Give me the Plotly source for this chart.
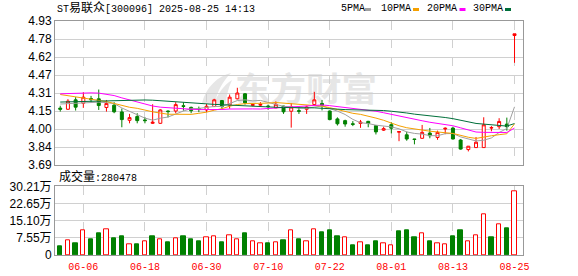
import base64
import plotly.graph_objects as go

# ---------------- data ----------------
dates = ["06-03", "06-04", "06-05", "06-06", "06-09", "06-10", "06-11", "06-12", "06-13", "06-16",
         "06-17", "06-18", "06-19", "06-20", "06-23", "06-24", "06-25", "06-26", "06-27", "06-30",
         "07-01", "07-02", "07-03", "07-04", "07-07", "07-08", "07-09", "07-10", "07-11", "07-14",
         "07-15", "07-16", "07-17", "07-18", "07-21", "07-22", "07-23", "07-24", "07-25", "07-28",
         "07-29", "07-30", "07-31", "08-01", "08-04", "08-05", "08-06", "08-07", "08-08", "08-11",
         "08-12", "08-13", "08-14", "08-15", "08-18", "08-19", "08-20", "08-21", "08-22", "08-25"]

open_ = [4.18, 4.17, 4.251, 4.222, 4.262, 4.26, 4.185, 4.205, 4.147, 4.075,
         4.107, 4.078, 4.049, 4.049, 4.155, 4.155, 4.20, 4.186, 4.175, 4.164,
         4.193, 4.245, 4.206, 4.26, 4.303, 4.203, 4.205, 4.198, 4.182, 4.197,
         4.153, 4.158, 4.17, 4.21, 4.22, 4.155, 4.087, 4.072, 4.045, 4.048,
         4.066, 4.029, 3.99, 4.037, 3.972, 3.95, 3.914, 3.92, 3.965, 3.927,
         4.00, 4.008, 3.905, 3.823, 3.84, 3.84, 4.008, 4.02, 4.042, 4.805]
high = [4.20, 4.257, 4.274, 4.317, 4.285, 4.34, 4.25, 4.231, 4.176, 4.13,
        4.136, 4.101, 4.213, 4.17, 4.16, 4.231, 4.23, 4.193, 4.193, 4.216,
        4.26, 4.25, 4.297, 4.355, 4.31, 4.222, 4.231, 4.21, 4.238, 4.20,
        4.223, 4.19, 4.20, 4.32, 4.25, 4.16, 4.10, 4.08, 4.068, 4.078,
        4.07, 4.03, 4.02, 4.058, 3.978, 3.977, 3.915, 4.035, 4.009, 3.986,
        4.014, 4.02, 3.913, 3.853, 3.931, 4.101, 4.025, 4.093, 4.098, 4.82]
low = [4.15, 4.165, 4.159, 4.182, 4.231, 4.164, 4.15, 4.136, 4.015, 4.049,
       4.049, 4.049, 4.043, 4.045, 4.10, 4.136, 4.158, 4.136, 4.145, 4.145,
       4.19, 4.173, 4.175, 4.255, 4.21, 4.196, 4.193, 4.165, 4.18, 4.13,
       4.012, 4.13, 4.13, 4.20, 4.16, 4.075, 4.03, 4.02, 4.025, 4.01,
       4.015, 3.953, 3.983, 3.962, 3.895, 3.899, 3.868, 3.915, 3.92, 3.907,
       3.955, 3.91, 3.822, 3.807, 3.838, 3.838, 3.98, 4.00, 3.986, 4.57]
close = [4.17, 4.24, 4.188, 4.274, 4.253, 4.202, 4.22, 4.148, 4.081, 4.098,
         4.072, 4.072, 4.058, 4.164, 4.150, 4.21, 4.195, 4.158, 4.170, 4.196,
         4.251, 4.193, 4.274, 4.31, 4.225, 4.21, 4.212, 4.193, 4.213, 4.148,
         4.19, 4.153, 4.19, 4.251, 4.205, 4.081, 4.045, 4.043, 4.040, 4.06,
         4.047, 3.975, 4.003, 4.007, 3.978, 3.914, 3.910, 3.971, 3.942, 3.971,
         4.006, 3.914, 3.827, 3.852, 3.886, 4.036, 4.012, 4.065, 4.02, 4.82]

ma5 = [4.215, 4.218, 4.220, 4.223, 4.225, 4.231, 4.227, 4.219, 4.181, 4.150,
       4.124, 4.094, 4.076, 4.093, 4.103, 4.131, 4.155, 4.175, 4.177, 4.186,
       4.194, 4.194, 4.217, 4.245, 4.251, 4.242, 4.246, 4.230, 4.211, 4.195,
       4.191, 4.179, 4.179, 4.186, 4.198, 4.176, 4.154, 4.125, 4.083, 4.054,
       4.047, 4.033, 4.025, 4.018, 4.002, 3.975, 3.962, 3.956, 3.943, 3.942,
       3.960, 3.961, 3.932, 3.914, 3.897, 3.903, 3.923, 3.970, 4.004, 4.191]
ma10 = [4.297, 4.287, 4.276, 4.265, 4.257, 4.249, 4.236, 4.220, 4.203, 4.187,
        4.178, 4.161, 4.148, 4.137, 4.127, 4.127, 4.125, 4.126, 4.135, 4.145,
        4.162, 4.175, 4.196, 4.211, 4.218, 4.218, 4.220, 4.223, 4.228, 4.223,
        4.217, 4.213, 4.204, 4.199, 4.197, 4.184, 4.167, 4.152, 4.135, 4.126,
        4.112, 4.094, 4.075, 4.051, 4.028, 4.011, 3.998, 3.991, 3.981, 3.972,
        3.968, 3.962, 3.944, 3.929, 3.919, 3.932, 3.942, 3.951, 3.959, 4.044]
ma20 = [4.303, 4.306, 4.309, 4.311, 4.311, 4.309, 4.300, 4.288, 4.268, 4.250,
        4.228, 4.212, 4.198, 4.188, 4.182, 4.177, 4.173, 4.170, 4.167, 4.166,
        4.170, 4.168, 4.172, 4.174, 4.172, 4.173, 4.172, 4.175, 4.181, 4.184,
        4.190, 4.194, 4.200, 4.205, 4.207, 4.201, 4.193, 4.188, 4.181, 4.174,
        4.164, 4.153, 4.140, 4.125, 4.112, 4.097, 4.082, 4.071, 4.058, 4.049,
        4.040, 4.028, 4.010, 3.990, 3.974, 3.971, 3.970, 3.971, 3.970, 4.008]
ma30 = [4.232, 4.234, 4.236, 4.238, 4.240, 4.243, 4.246, 4.248, 4.250, 4.251,
        4.251, 4.250, 4.248, 4.243, 4.237, 4.232, 4.228, 4.224, 4.220, 4.215,
        4.212, 4.209, 4.205, 4.202, 4.199, 4.195, 4.192, 4.190, 4.187, 4.185,
        4.186, 4.183, 4.183, 4.182, 4.180, 4.176, 4.171, 4.167, 4.166, 4.164,
        4.164, 4.160, 4.159, 4.153, 4.148, 4.138, 4.128, 4.122, 4.114, 4.107,
        4.099, 4.089, 4.074, 4.059, 4.048, 4.042, 4.035, 4.031, 4.025, 4.047]

volume = [39600, 64500, 52800, 108500, 70400, 96700, 112900, 74800, 83600, 46900,
          48400, 60100, 83600, 68900, 57200, 73300, 83600, 70400, 61600, 77700,
          82100, 57200, 86500, 68900, 96700, 60100, 51300, 52800, 55700, 66000,
          108500, 70400, 60100, 112900, 101100, 109900, 83600, 77700, 44000, 55700,
          44000, 61600, 51300, 42500, 105500, 109900, 79200, 95300, 61600, 51300,
          46900, 83600, 109900, 60100, 86500, 178800, 79200, 134900, 118700, 280478]
vol_up = [0, 1, 0, 1, 0, 0, 1, 0, 0, 1,
          0, 1, 0, 1, 0, 1, 0, 0, 0, 1,
          1, 0, 1, 1, 0, 1, 1, 0, 1, 0,
          1, 0, 1, 1, 0, 0, 0, 1, 0, 1,
          0, 0, 1, 1, 0, 0, 0, 1, 0, 1,
          1, 0, 0, 1, 1, 1, 0, 1, 0, 1]

tick_dates = ["06-06", "06-18", "06-30", "07-10", "07-22", "08-01", "08-13", "08-25"]
price_ticks = [3.69, 3.845, 4.00, 4.155, 4.31, 4.465, 4.62, 4.775, 4.93]
price_labels = ["3.69", "3.84", "4.00", "4.15", "4.31", "4.47", "4.62", "4.78", "4.93"]
vol_ticks = [0, 75500, 151000, 226500, 302100]
vol_labels = ["0", "7.55万", "15.10万", "22.65万", "30.21万"]
ma_names = ["5PMA", "10PMA", "20PMA", "30PMA"]

# ---------------- styling ----------------
RED = "#ff0000"
GREEN = "#008000"
MA_COLORS = ["#a0a0a0", "#f5a000", "#ff00ff", "#006f3a"]
GRID = "#d0d0d0"
FRAME = "#999999"
MONO = "Liberation Mono, Noto Sans CJK SC, monospace"
SANS = "Liberation Sans, Arial, Noto Sans CJK SC, sans-serif"

W, H = 578, 276
ML, MR, MT, MB = 55, 55, 21, 21
PW, PH = W - ML - MR, H - MT - MB


def px(xp):
    return (xp - ML) / PW


def py(yp):
    return (H - MB - yp) / PH


fig = go.Figure()

fig.add_trace(go.Candlestick(
    x=dates, open=open_, high=high, low=low, close=close,
    increasing=dict(line=dict(color=RED, width=1), fillcolor="white"),
    decreasing=dict(line=dict(color=GREEN, width=1), fillcolor=GREEN),
    whiskerwidth=0, showlegend=False, hoverinfo="skip",
    xaxis="x", yaxis="y"))

for vals, col in zip([ma5, ma10, ma20, ma30], MA_COLORS):
    fig.add_trace(go.Scatter(x=dates, y=vals, mode="lines",
                             line=dict(color=col, width=1),
                             showlegend=False, hoverinfo="skip",
                             xaxis="x", yaxis="y"))

fig.add_trace(go.Bar(
    x=dates, y=volume, width=0.56,
    marker=dict(color=["white" if u else GREEN for u in vol_up],
                line=dict(color=[RED if u else GREEN for u in vol_up], width=1)),
    showlegend=False, hoverinfo="skip", xaxis="x2", yaxis="y2"))

xrange = [-0.68, 60.1]
common_x = dict(type="category", range=xrange, tickvals=tick_dates,
                showgrid=True, gridcolor=GRID, griddash="dash", gridwidth=1,
                showline=True, mirror=True, linecolor=FRAME, linewidth=1,
                ticks="", zeroline=False, fixedrange=True, automargin=False)

fig.update_layout(
    width=W, height=H,
    margin=dict(l=ML, r=MR, t=MT, b=MB, pad=0, autoexpand=False),
    paper_bgcolor="white", plot_bgcolor="rgba(0,0,0,0)",
    boxgap=0.45, bargap=0, showlegend=False,
    xaxis=dict(domain=[0, 1], anchor="y", showticklabels=False,
               rangeslider=dict(visible=False), **common_x),
    yaxis=dict(domain=[py(165), 1], range=[3.69, 4.93], tickvals=price_ticks,
               ticktext=price_labels, showgrid=True, gridcolor=GRID,
               showline=True, mirror=True, linecolor=FRAME, ticks="",
               zeroline=False, automargin=False,
               tickfont=dict(family=SANS, size=12, color="#000")),
    xaxis2=dict(domain=[0, 1], anchor="y2", matches="x", showticklabels=True,
                ticktext=tick_dates, tickfont=dict(family=MONO, size=10, color=RED),
                ticklabelstandoff=2, **common_x),
    yaxis2=dict(domain=[0, py(186.3)], range=[0, 302100], tickvals=vol_ticks,
                ticktext=vol_labels, showgrid=True, gridcolor=GRID,
                showline=True, mirror=True, linecolor=FRAME, ticks="",
                zeroline=False, automargin=False,
                tickfont=dict(family=SANS, size=12, color="#000")),
)

# title and volume caption
fig.add_annotation(xref="paper", yref="paper", x=px(55), y=py(9), xanchor="left", yanchor="middle",
                   text='ST<span style="font-size:12px">易联众</span>[300096] 2025-08-25 14:13',
                   showarrow=False, font=dict(family=MONO, size=10, color="#000"))
fig.add_annotation(xref="paper", yref="paper", x=px(57), y=py(177), xanchor="left", yanchor="middle",
                   text='<span style="font-size:12px">成交量</span>:' + str(volume[-1]),
                   showarrow=False, font=dict(family=MONO, size=10, color="#000"))

# MA legend (text followed by a coloured dash)
legend_x = [338.5, 379, 425, 470.5]
marker_x = [365, 413, 459.5, 505]
for name, col, lx, mx in zip(ma_names, MA_COLORS, legend_x, marker_x):
    fig.add_annotation(xref="paper", yref="paper", x=px(lx), y=py(8.5), xanchor="left",
                       yanchor="middle", text=name, showarrow=False,
                       font=dict(family=MONO, size=10, color="#000"))
    fig.add_shape(type="rect", xref="paper", yref="paper", x0=px(mx), x1=px(mx + 6),
                  y0=py(11), y1=py(8), line=dict(width=0), fillcolor=col)

# faint watermark behind the price panel
svg = ('<svg xmlns="http://www.w3.org/2000/svg" width="180" height="34" viewBox="0 0 180 34">'
       '<path d="M4,32 C8,16 20,5 33,2 C25,10 19,20 17,33 Z M16,33 C20,22 26,14 34,9 C30,18 28,26 28,33 Z" fill="#e6e6e6"/>'
       '<text x="37" y="30" font-family="Noto Sans CJK SC" font-weight="bold" font-size="33" '
       'fill="#e6e6e6" textLength="142" lengthAdjust="spacingAndGlyphs">东方财富</text></svg>')
src = "data:image/svg+xml;base64," + base64.b64encode(svg.encode("utf-8")).decode("ascii")
fig.add_layout_image(dict(source=src, xref="paper", yref="paper", x=px(198), y=py(71),
                          sizex=180 / PW, sizey=34 / PH, xanchor="left", yanchor="top",
                          sizing="stretch", layer="below", opacity=1))

fig.write_html("out.html", config={"displayModeBar": False})
